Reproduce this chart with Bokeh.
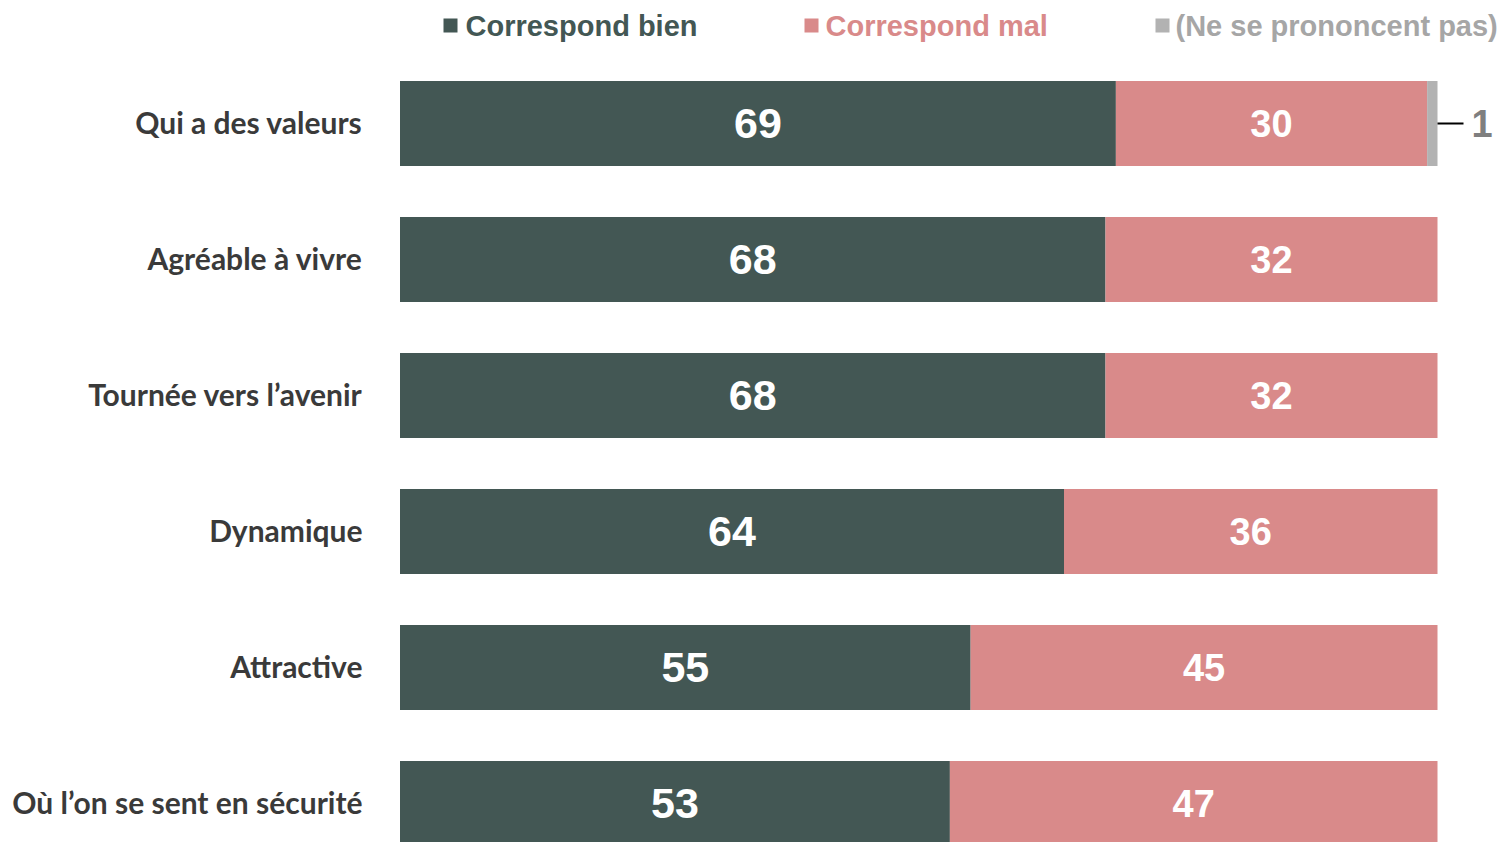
from bokeh.plotting import figure
from bokeh.models import Range1d, ColumnDataSource
from bokeh.core.properties import value
from bokeh.embed import file_html
from bokeh.resources import INLINE

categories = ["Qui a des valeurs", "Agréable à vivre", "Tournée vers l’avenir",
              "Dynamique", "Attractive", "Où l’on se sent en sécurité"]
bien = [69, 68, 68, 64, 55, 53]
mal = [30, 32, 32, 36, 45, 47]
nsp = [1, 0, 0, 0, 0, 0]
series_names = ["Correspond bien", "Correspond mal", "(Ne se prononcent pas)"]

GREEN = "#435754"
PINK = "#D98A8A"
GREY = "#B2B2B2"
LABEL = "#3A3A3A"

W, H = 1506, 842
# layout mapping (reference pixel -> data units)
X0, XS = 399.5, 10.375      # pixel of value 0, pixels per unit
Y0, YS = 123.0, 136.0       # pixel of first row center, pixels per row
OFF = 0.0

def X(px):
    return (px - X0) / XS

def Y(py):
    return (py - Y0) / YS

p = figure(width=W, height=H, output_backend="svg", toolbar_location=None,
           x_range=Range1d(X(OFF), X(OFF + W)),
           y_range=Range1d(Y(OFF + H), Y(OFF)),
           x_axis_location=None, y_axis_location=None,
           min_border=0, min_border_left=0, min_border_right=0,
           min_border_top=0, min_border_bottom=0)
p.outline_line_color = None
p.xgrid.visible = False
p.ygrid.visible = False
p.background_fill_color = "white"
p.border_fill_color = "white"

rows = list(range(len(categories)))
left_mal = bien
right_mal = [b + m for b, m in zip(bien, mal)]
right_nsp = [b + m + n for b, m, n in zip(bien, mal, nsp)]

src = ColumnDataSource(dict(
    y=rows, cat=categories,
    b=bien, m=mal, n=nsp,
    zero=[0] * len(rows), lm=left_mal, rm=right_mal, rn=right_nsp,
    cb=[v / 2 for v in bien],
    cm=[b + m / 2 for b, m in zip(bien, mal)],
    tb=[str(v) for v in bien], tm=[str(v) for v in mal],
))

bh = 85 / YS
p.hbar(y="y", left="zero", right="b", height=bh, source=src, fill_color=GREEN, line_color=None)
p.hbar(y="y", left="lm", right="rm", height=bh, source=src, fill_color=PINK, line_color=None)
p.hbar(y="y", left="rm", right="rn", height=bh, source=src, fill_color=GREY, line_color=None)

# values inside bars
p.text(x="cb", y="y", text="tb", source=src, text_align="center", text_baseline="middle",
       text_font=value("Liberation Sans"), text_font_style="bold", text_font_size="43px",
       text_color="white", y_offset=0)
p.text(x="cm", y="y", text="tm", source=src, text_align="center", text_baseline="middle",
       text_font=value("Liberation Sans"), text_font_style="bold", text_font_size="38px",
       text_color="white", y_offset=0)

# category labels
p.text(x=[X(362)] * len(rows), y=rows, text=categories, text_align="right", text_baseline="middle",
       text_font=value("Lato"), text_font_style="bold", text_font_size="30px", text_color=LABEL,
       y_offset=-2)

# small NSP labels with leader line
for i, n in enumerate(nsp):
    if n > 0:
        end = right_nsp[i]
        p.segment(x0=[end], y0=[i], x1=[end + X(1463) - X(1437)], y1=[i],
                  line_color="black", line_width=2)
        p.text(x=[end + X(1471) - X(1437)], y=[i], text=[str(n)], text_align="left",
               text_baseline="middle", text_font=value("Liberation Sans"), text_font_style="bold",
               text_font_size="38px", text_color="#7F7F7F", y_offset=0)

# legend
leg_sq_px = [450, 811, 1162]
leg_tx_px = [465, 825, 1175]
leg_cols = [GREEN, PINK, GREY]
leg_txt_cols = [GREEN, PINK, "#A6A6A6"]
ly = Y(25)
p.rect(x=[X(v) for v in leg_sq_px], y=[ly] * 3, width=14, height=14,
       width_units="screen", height_units="screen", fill_color=leg_cols, line_color=None)
p.text(x=[X(v) for v in leg_tx_px], y=[ly] * 3, text=series_names, text_align="left",
       text_baseline="middle", text_font=value("Liberation Sans"), text_font_style="bold",
       text_font_size="29px", text_color=leg_txt_cols, y_offset=0)

open("out.html", "w").write(file_html(p, INLINE))
